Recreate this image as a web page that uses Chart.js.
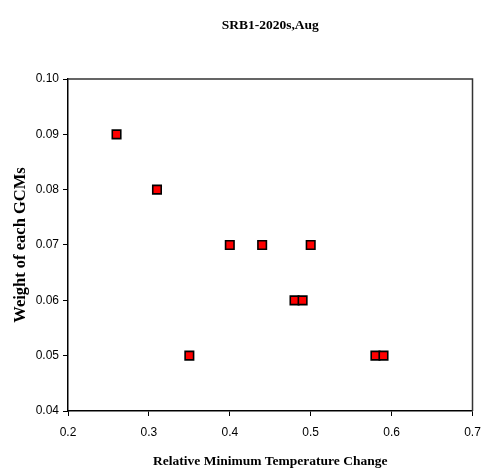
<!DOCTYPE html>
<html>
<head>
<meta charset="utf-8">
<script src="https://cdn.jsdelivr.net/npm/chart.js@4/dist/chart.umd.min.js"></script>
<style>
  html, body { margin: 0; padding: 0; background: #fff; }
  #wrap { width: 482px; height: 474px; }
</style>
</head>
<body>
<div id="wrap"><canvas id="c" width="482" height="474"></canvas></div>
<script>
// Relative minimum temperature change vs. weight of each GCM
const tempChange = [0.26, 0.31, 0.35, 0.40, 0.44, 0.50, 0.48, 0.49, 0.58, 0.59];
const gcmWeight  = [0.09, 0.08, 0.05, 0.07, 0.07, 0.07, 0.06, 0.06, 0.05, 0.05];

const titleText = 'SRB1-2020s,Aug';
const xTitle = 'Relative Minimum Temperature Change';
const yTitle = 'Weight of each GCMs';

const points = tempChange.map((x, i) => ({ x: x, y: gcmWeight[i] }));

// Plot frame: dark top and right edges
const framePlugin = {
  id: 'frame',
  afterDraw(chart) {
    const { ctx, chartArea: a } = chart;
    ctx.save();
    ctx.strokeStyle = '#333';
    ctx.lineWidth = 1.5;
    ctx.beginPath();
    ctx.moveTo(a.left, a.top);
    ctx.lineTo(a.right, a.top);
    ctx.lineTo(a.right, a.bottom);
    ctx.stroke();
    ctx.restore();
  }
};

// Chart title centred above the plot area
const titlePlugin = {
  id: 'topTitle',
  afterDraw(chart) {
    const { ctx, chartArea: a } = chart;
    ctx.save();
    ctx.font = 'bold 13.5px "Liberation Serif", "Times New Roman", serif';
    ctx.fillStyle = '#000';
    ctx.textAlign = 'center';
    ctx.textBaseline = 'middle';
    ctx.fillText(titleText, (a.left + a.right) / 2, 26);
    ctx.restore();
  }
};

const tickFont = { family: '"Liberation Sans", Arial, sans-serif', size: 12 };
const serif = '"Liberation Serif", "Times New Roman", serif';

new Chart(document.getElementById('c'), {
  type: 'scatter',
  data: {
    datasets: [{
      data: points,
      pointStyle: 'rect',
      pointRadius: 6,
      pointHoverRadius: 6,
      backgroundColor: '#ff0000',
      borderColor: '#000',
      borderWidth: 1.6
    }]
  },
  options: {
    responsive: false,
    animation: false,
    devicePixelRatio: 1,
    layout: { padding: { top: 79, right: 0, left: 0, bottom: 0 } },
    plugins: {
      legend: { display: false },
      tooltip: { enabled: false },
      title: { display: false }
    },
    scales: {
      x: {
        type: 'linear',
        min: 0.2, max: 0.7,
        afterFit(scale) {
          scale.height = 63;
          scale.paddingLeft = 0;
          scale.paddingRight = 9.5;
        },
        ticks: {
          stepSize: 0.1,
          color: '#000',
          font: tickFont,
          padding: 9,
          maxRotation: 0,
          callback: v => v.toFixed(1)
        },
        grid: { display: true, drawOnChartArea: false, drawTicks: true, tickLength: 5, color: '#000' },
        border: { display: true, color: '#000', width: 1.5 },
        title: {
          display: true, text: xTitle, color: '#000',
          font: { family: serif, size: 13.5, weight: 'bold' },
          padding: { top: 0, bottom: 4 }
        }
      },
      y: {
        type: 'linear',
        min: 0.04, max: 0.10,
        afterFit(scale) { scale.width = 68; },
        ticks: {
          stepSize: 0.01,
          color: '#000',
          font: tickFont,
          padding: 4,
          callback: v => v.toFixed(2)
        },
        grid: { display: true, drawOnChartArea: false, drawTicks: true, tickLength: 5, color: '#000' },
        border: { display: true, color: '#000', width: 1.5 },
        title: {
          display: true, text: yTitle, color: '#000',
          font: { family: serif, size: 16.5, weight: 'bold' },
          padding: { top: 11, bottom: 0 }
        }
      }
    }
  },
  plugins: [framePlugin, titlePlugin]
});
</script>
</body>
</html>
